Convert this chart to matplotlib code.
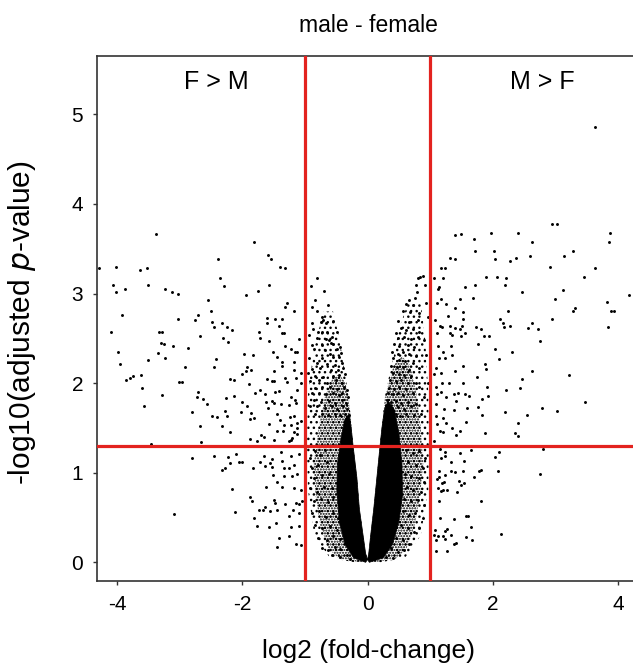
import matplotlib
matplotlib.use("Agg")
import matplotlib.pyplot as plt
import numpy as np

plt.rcParams['font.family'] = ['Liberation Sans', 'DejaVu Sans']
plt.rcParams['hatch.linewidth'] = 1.0
plt.rcParams['hatch.color'] = 'black'

# ---------------- data ----------------
# sparse genes with log2FC < -1
left_x = [-3.38,-1.82,-4.29,-4.01,-3.64,-3.52,-2.39,-1.59,-1.54,-1.40,-1.32,-2.35,-4.06,-4.02,-3.87,-3.51,-3.24,-3.13,-3.02,-2.30,
          -1.58,-1.75,-1.94,-2.54,-1.29,-1.31,-1.17,-3.92,-3.03,-2.70,-2.50,-2.76,-2.49,-2.45,-2.32,-2.24,-2.16,-1.61,-1.61,-1.47,
          -1.36,-1.41,-1.37,-1.33,-4.10,-3.33,-3.29,-2.68,-2.31,-2.23,-1.73,-1.72,-1.57,-1.10,-3.30,-3.25,-3.10,-2.86,-3.99,-3.34,
          -3.50,-3.23,-1.98,-1.83,-1.51,-1.32,-1.23,-1.16,-1.12,-1.45,-1.37,-3.96,-2.92,-2.45,-2.42,-1.93,-1.86,-1.94,-2.00,-1.49,
          -1.36,-1.18,-1.17,-1.07,-3.86,-3.79,-3.74,-3.62,-3.60,-3.01,-2.97,-2.20,-2.14,-1.89,-1.61,-1.53,-1.49,-1.32,-1.28,-1.15,
          -1.07,-3.29,-2.70,-2.73,-2.62,-2.56,-2.26,-2.13,-1.80,-1.72,-1.63,-1.47,-1.41,-1.23,-1.16,-1.13,-3.57,-1.62,-1.53,-1.49,
          -1.59,-1.38,-1.25,-1.15,-2.80,-2.01,-1.92,-2.02,-1.86,-2.49,-2.40,-2.28,-2.25,-1.88,-1.82,-1.45,-1.39,-1.24,-1.17,-1.07,
          -1.12,-2.68,-2.32,-2.20,-1.58,-1.34,-1.23,-1.35,-1.45,-1.70,-1.66,-1.87,-1.50,-1.17,-1.13,-1.12,-1.23,-1.21,-2.66,-3.46,
          -1.77,-1.25,-2.80,-2.45,-2.23,-2.10,-2.33,-2.27,-2.20,-2.06,-2.00,-1.83,-1.71,-1.65,-1.64,-1.56,-1.53,-1.53,-1.38,-1.36,
          -1.34,-1.23,-1.26,-1.18,-1.09,-1.13,-1.51,-1.33,-1.21,-1.45,-1.36,-1.62,-1.17,-1.07,-2.16,-1.88,-1.84,-1.50,-1.48,-1.31,
          -1.15,-1.09,-1.05,-1.74,-1.67,-1.63,-1.55,-1.44,-1.25,-1.19,-1.09,-2.12,-3.09,-1.81,-1.77,-1.57,-1.46,-1.22,-1.10,-1.26,
          -1.41,-1.44,-1.15,-1.07]
left_y = [3.66,3.57,3.28,3.30,3.26,3.28,3.39,3.43,3.39,3.30,3.28,3.17,3.10,3.02,3.05,3.10,3.05,3.02,2.99,3.08,
          3.09,3.03,2.98,2.93,2.89,2.85,2.81,2.76,2.72,2.76,2.81,2.70,2.68,2.63,2.67,2.63,2.59,2.73,2.67,2.72,
          2.72,2.64,2.56,2.56,2.57,2.57,2.57,2.53,2.50,2.46,2.57,2.50,2.47,2.49,2.45,2.44,2.41,2.39,2.35,2.34,
          2.26,2.28,2.33,2.31,2.35,2.41,2.38,2.35,2.35,2.29,2.24,2.21,2.18,2.18,2.27,2.18,2.15,2.13,2.10,2.13,
          2.19,2.24,2.15,2.11,2.03,2.06,2.08,2.09,1.95,2.01,2.01,2.05,2.04,1.99,2.05,2.02,2.02,2.06,2.01,2.06,
          2.00,1.87,1.90,1.84,1.82,1.77,1.83,1.86,1.89,1.92,1.88,1.90,1.91,1.85,1.81,1.92,1.74,1.79,1.80,1.78,
          1.72,1.77,1.76,1.78,1.68,1.79,1.75,1.68,1.67,1.63,1.62,1.69,1.63,1.60,1.61,1.66,1.59,1.62,1.63,1.58,
          1.55,1.52,1.52,1.46,1.54,1.53,1.53,1.47,1.47,1.42,1.40,1.38,1.37,1.45,1.50,1.43,1.37,1.39,1.34,1.32,
          1.35,1.35,1.16,1.19,1.18,1.21,1.03,1.05,1.11,1.12,1.12,1.05,1.12,1.19,1.08,1.11,1.15,1.06,1.23,1.13,
          1.05,1.19,1.05,1.09,1.21,0.99,0.97,0.96,0.96,0.90,0.84,0.84,0.83,0.81,0.82,0.73,0.68,0.70,0.66,0.65,
          0.66,0.65,0.68,0.58,0.58,0.62,0.57,0.58,0.52,0.58,0.55,0.56,0.54,0.49,0.40,0.39,0.44,0.39,0.40,0.29,
          0.27,0.17,0.20,0.19]

# sparse genes with log2FC > 1
right_x = [3.63,2.94,3.02,1.40,1.49,1.98,2.41,3.87,3.86,1.70,2.63,1.72,2.02,3.29,1.32,1.39,2.04,2.28,2.38,2.59,
           3.14,2.92,3.64,1.18,1.24,1.06,1.20,1.90,2.07,2.21,3.46,1.56,1.71,2.19,1.14,2.46,3.13,4.17,1.47,1.68,
           2.99,3.83,1.18,1.25,1.40,3.31,3.29,2.24,3.89,3.94,1.52,1.29,2.12,1.53,2.95,2.17,2.62,1.19,1.31,1.39,
           1.47,1.51,1.74,1.82,2.18,2.27,2.56,2.73,3.84,1.32,1.35,1.49,1.55,1.86,1.94,1.77,2.76,2.03,2.31,2.10,
           1.53,1.87,1.90,1.40,2.62,3.22,1.75,2.47,1.52,1.30,1.91,2.21,2.43,1.44,1.38,1.56,1.62,1.93,1.83,3.47,
           1.42,1.59,1.77,1.38,2.78,3.02,2.19,2.54,1.83,1.57,2.40,1.35,1.48,1.41,1.87,2.35,2.40,1.16,1.20,1.07,
           1.16,1.65,2.10,1.47,1.12,1.11,1.08,1.16,1.11,1.13,1.33,1.20,1.35,1.15,1.23,1.10,1.18,1.07,1.19,1.09,
           1.17,1.11,1.26,1.10,1.22,1.09,1.20,1.26,1.11,
           1.23,1.23,2.04,2.80,1.18,1.33,1.54,1.14,1.33,1.40,1.53,1.78,1.82,2.08,2.76,1.70,1.24,1.15,1.11,1.19,
           1.22,1.46,1.49,1.54,1.12,1.17,1.21,1.27,1.43,1.82,1.14,1.16,1.38,1.57,1.61,2.14,1.65,1.08,1.23,1.27,
           1.06,1.12,1.21,1.23,1.34,1.57,1.67,1.38,1.42,1.10,1.09,1.27]
right_y = [4.86,3.78,3.78,3.65,3.66,3.67,3.67,3.67,3.57,3.61,3.57,3.47,3.47,3.47,3.40,3.39,3.39,3.36,3.40,3.42,
           3.42,3.30,3.29,3.29,3.29,3.17,3.17,3.19,3.19,3.17,3.18,3.07,3.09,3.10,3.07,3.02,3.04,2.98,2.94,2.95,
           2.94,2.91,2.94,2.88,2.84,2.84,2.80,2.80,2.80,2.80,2.79,2.75,2.72,2.72,2.72,2.67,2.67,2.63,2.64,2.61,
           2.60,2.64,2.63,2.60,2.63,2.64,2.61,2.60,2.63,2.56,2.54,2.53,2.56,2.53,2.53,2.44,2.47,2.38,2.35,2.27,
           2.19,2.21,2.16,2.13,2.13,2.09,2.07,2.05,2.00,2.00,1.96,1.92,1.95,1.89,1.88,1.88,1.86,1.86,1.82,1.79,
           1.80,1.72,1.73,1.70,1.72,1.69,1.68,1.64,1.64,1.57,1.55,1.50,1.47,1.42,1.44,1.44,1.41,1.47,1.45,1.35,
           1.26,1.25,1.23,1.22,3.05,2.89,2.71,2.64,2.56,2.41,2.41,2.35,2.31,2.28,2.28,2.17,2.11,2.10,2.00,1.96,
           1.90,1.88,1.85,1.77,1.71,1.63,1.61,1.55,1.54,
           1.23,1.19,1.18,1.27,1.16,1.12,1.13,1.02,1.02,1.01,1.02,1.02,1.03,1.02,0.99,0.95,0.97,0.95,0.93,0.89,
           0.90,0.91,0.86,0.88,0.83,0.80,0.81,0.81,0.79,0.69,0.68,0.49,0.48,0.52,0.52,0.32,0.39,0.36,0.35,0.37,
           0.31,0.29,0.29,0.26,0.31,0.28,0.25,0.21,0.22,0.25,0.13,0.13]

# genes with -1 < log2FC < 1 outside the dense core
mid_x = [-0.80,-0.91,-0.69,-0.84,-0.63,-0.88,-0.80,-0.73,-0.71,-0.55,-0.89,-0.74,-0.67,-0.87,-0.79,-0.73,-0.65,-0.48,-0.93,-0.81,
         -0.67,-0.61,-0.56,-0.59,-0.55,-0.89,-0.73,-0.44,-0.85,-0.68,-0.49,-0.60,-0.42,-0.93,-0.73,-0.55,-0.46,-0.81,-0.65,-0.52,
         -0.41,-0.88,-0.76,-0.59,-0.47,-0.39,-0.95,-0.84,-0.71,-0.55,-0.45,-0.36,-0.92,-0.78,-0.64,-0.50,-0.41,-0.84,-0.73,-0.60,
         -0.49,-0.37,-0.33,-0.89,-0.77,-0.66,-0.55,-0.45,-0.40,-0.31,-0.86,-0.74,-0.61,-0.52,-0.41,-0.34,-0.92,-0.81,-0.68,-0.57,
         -0.48,-0.39,-0.32,-0.84,-0.72,-0.63,-0.52,-0.44,-0.36,-0.29,
         0.80,0.84,0.88,0.77,0.92,0.79,0.67,0.76,0.62,0.72,0.93,0.56,0.68,0.83,0.96,0.48,0.66,0.80,0.53,0.62,
         0.72,0.83,0.46,0.48,0.59,0.69,0.80,0.91,0.43,0.51,0.64,0.75,0.39,0.48,0.57,0.67,0.77,0.93,0.40,0.51,
         0.60,0.72,0.38,0.47,0.56,0.66,0.83,0.41,0.50,0.59,0.70,0.36,0.45,0.54,0.64,0.77,0.96,0.35,0.43,0.51,
         0.62,0.83,0.32,0.40,0.48,0.57,0.72,0.91,0.31,0.38,0.46,0.54,0.64,0.77,0.30,0.39,0.48,0.59,0.69,0.29,
         0.36,0.45,0.52,0.62,0.75,0.85,
         -0.92,-0.84,-0.76,-0.68,-0.89,-0.79,-0.65,-0.86,-0.73,-0.61,-0.92,-0.81,-0.69,-0.57,-0.86,-0.75,-0.63,-0.55,-0.89,-0.77,
         -0.66,-0.55,-0.47,-0.84,-0.72,-0.60,-0.49,-0.79,-0.65,-0.55,-0.44,-0.73,-0.63,-0.52,-0.44,-0.57,-0.44,-0.33,-0.28,
         0.61,0.72,0.83,0.92,0.64,0.77,0.88,0.60,0.70,0.82,0.91,0.63,0.73,0.85,0.59,0.70,0.80,0.91,0.56,0.66,
         0.76,0.88,0.54,0.64,0.75,0.83,0.46,0.56,0.67,0.38,0.48,0.59,0.30,0.40]
mid_y = [3.17,3.08,3.03,2.93,2.87,2.85,2.81,2.74,2.70,2.69,2.67,2.68,2.67,2.60,2.57,2.57,2.57,2.57,2.54,2.50,
         2.49,2.48,2.51,2.45,2.44,2.43,2.43,2.40,2.38,2.37,2.38,2.33,2.34,2.28,2.28,2.29,2.29,2.22,2.21,2.20,
         2.23,2.16,2.17,2.15,2.15,2.17,2.11,2.08,2.07,2.08,2.09,2.10,2.02,2.03,2.00,2.03,2.00,1.95,1.96,1.96,
         1.94,1.96,1.92,1.89,1.89,1.88,1.89,1.87,1.89,1.85,1.81,1.79,1.80,1.78,1.81,1.78,1.74,1.74,1.72,1.74,
         1.71,1.74,1.71,1.66,1.65,1.64,1.66,1.64,1.66,1.64,
         3.17,3.19,3.20,3.09,3.09,3.02,2.93,2.95,2.88,2.87,2.89,2.80,2.79,2.78,2.74,2.69,2.68,2.70,2.61,2.59,
         2.60,2.57,2.56,2.50,2.51,2.49,2.51,2.48,2.44,2.41,2.42,2.40,2.35,2.33,2.35,2.32,2.30,2.31,2.28,2.26,
         2.25,2.23,2.19,2.18,2.18,2.15,2.17,2.11,2.10,2.09,2.08,2.04,2.02,2.03,2.00,2.00,2.00,1.95,1.94,1.96,
         1.93,1.96,1.89,1.88,1.89,1.87,1.89,1.85,1.81,1.79,1.80,1.78,1.79,1.77,1.74,1.72,1.73,1.71,1.74,1.66,
         1.64,1.65,1.63,1.66,1.64,1.65,
         1.16,1.24,1.20,1.25,1.05,1.09,1.12,0.94,0.97,0.99,0.83,0.79,0.84,0.83,0.68,0.71,0.67,0.73,0.55,0.57,
         0.51,0.55,0.49,0.42,0.38,0.40,0.36,0.27,0.25,0.29,0.26,0.16,0.14,0.17,0.15,0.08,0.06,0.08,0.04,
         1.25,1.22,1.24,1.16,1.12,1.09,1.05,0.99,0.96,0.94,0.90,0.84,0.81,0.79,0.71,0.68,0.70,0.64,0.57,0.53,
         0.55,0.49,0.42,0.38,0.34,0.38,0.27,0.25,0.21,0.16,0.12,0.14,0.06,0.05]

# outlines of the volcano's density zones (outer speckle, dense speckle, solid core)
outer_left_x = [-0.20,-0.60,-0.85,-0.95,-0.97,-0.95,-0.85,-0.70,-0.55,-0.45,-0.38,-0.30,-0.26,-0.23,-0.17,-0.13,-0.07,-0.03,0.00]
outer_left_y = [0.00,0.05,0.30,0.80,1.30,1.90,2.40,2.80,2.80,2.50,2.20,1.85,1.55,1.30,0.95,0.60,0.30,0.10,0.03]
outer_right_x = [0.20,0.60,0.85,0.97,0.98,0.97,0.92,0.85,0.65,0.50,0.42,0.32,0.28,0.23,0.20,0.15,0.10,0.05,0.02,0.00]
outer_right_y = [0.00,0.05,0.30,0.80,1.30,1.90,2.50,2.90,2.90,2.60,2.30,2.00,1.85,1.50,1.30,0.95,0.60,0.30,0.10,0.03]

dense_left_x = [-0.10,-0.45,-0.62,-0.75,-0.83,-0.86,-0.78,-0.68,-0.56,-0.45,-0.35,-0.28,-0.26,-0.23,-0.17,-0.13,-0.07,-0.03,0.00]
dense_left_y = [0.00,0.04,0.15,0.40,0.75,1.10,1.50,1.85,2.05,2.10,2.00,1.70,1.55,1.30,0.95,0.60,0.30,0.10,0.03]
dense_right_x = [0.10,0.45,0.62,0.75,0.84,0.89,0.85,0.78,0.68,0.55,0.42,0.30,0.28,0.23,0.20,0.15,0.10,0.05,0.02,0.00]
dense_right_y = [0.00,0.04,0.15,0.40,0.75,1.10,1.50,1.90,2.20,2.30,2.20,1.90,1.85,1.50,1.30,0.95,0.60,0.30,0.10,0.03]

core_left_x = [-0.03,-0.22,-0.36,-0.45,-0.49,-0.48,-0.42,-0.36,-0.29,-0.26,-0.23,-0.17,-0.13,-0.07,-0.03,0.00]
core_left_y = [0.00,0.05,0.20,0.45,0.80,1.10,1.40,1.60,1.65,1.50,1.30,0.95,0.60,0.30,0.10,0.03]
core_right_x = [0.03,0.25,0.40,0.50,0.56,0.55,0.50,0.43,0.33,0.27,0.23,0.20,0.15,0.10,0.05,0.02,0.00]
core_right_y = [0.00,0.05,0.20,0.45,0.75,1.10,1.45,1.70,1.80,1.70,1.50,1.30,0.95,0.60,0.30,0.10,0.03]

fc_cut = 1.0
p_cut = 0.05

# ---------------- figure ----------------
fig = plt.figure(figsize=(6.33, 6.68), dpi=100)
ax = fig.add_axes([97/633, 87.3/668, (636-97)/633, (580.7-56)/668])

for xs, ys in [(outer_left_x, outer_left_y), (outer_right_x, outer_right_y)]:
    ax.fill(xs, ys, facecolor='none', edgecolor='black', lw=0, hatch='...', zorder=2)
for xs, ys in [(dense_left_x, dense_left_y), (dense_right_x, dense_right_y)]:
    ax.fill(xs, ys, facecolor='none', edgecolor='black', lw=0, hatch='......', zorder=2)
for xs, ys in [(core_left_x, core_left_y), (core_right_x, core_right_y)]:
    ax.fill(xs, ys, color='black', lw=0.5, zorder=2)
for xs, ys in [(left_x, left_y), (right_x, right_y), (mid_x, mid_y)]:
    ax.scatter(xs, ys, s=4.5, c='black', marker='o', linewidths=0, zorder=3)

red = '#e3231f'
ax.axvline(-fc_cut, color=red, lw=2.3, zorder=4)
ax.axvline(fc_cut, color=red, lw=2.3, zorder=4)
ax.axhline(-np.log10(p_cut), color=red, lw=2.3, zorder=4)

ax.set_xlim(-4.321, 4.289)
ax.set_ylim(-0.205, 5.651)
ax.set_xticks([-4, -2, 0, 2, 4])
ax.set_yticks([0, 1, 2, 3, 4, 5])
ax.set_xticklabels(['-4', '-2', '0', '2', '4'])
ax.set_yticklabels(['0', '1', '2', '3', '4', '5'])
ax.tick_params(labelsize=15, length=3, width=1, color='#333333', pad=7)
for s in ax.spines.values():
    s.set_linewidth(1.2)
    s.set_color('#333333')

ax.text(-2.42, 5.36, 'F > M', fontsize=18, ha='center', va='center')
ax.text(2.79, 5.36, 'M > F', fontsize=18, ha='center', va='center')

fig.text(368/633, 1 - 25/668, 'male - female', fontsize=16.5, ha='center', va='center')
fig.text(368/633, 1 - 651/668, 'log2 (fold-change)', fontsize=19, ha='center', va='center')
fig.text(22/633, 1 - 323/668, r'-log10(adjusted $\mathit{p}$-value)', fontsize=21.5,
         ha='center', va='center', rotation=90)

fig.savefig('out.png', dpi=100)
